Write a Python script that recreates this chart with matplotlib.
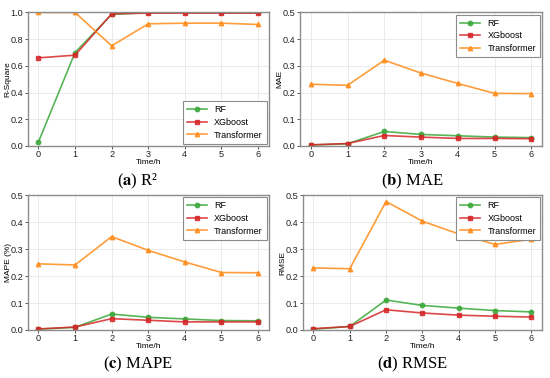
import matplotlib.pyplot as plt

plt.rcParams['font.family'] = ['Liberation Sans', 'DejaVu Sans']
plt.rcParams['mathtext.fontset'] = 'stix'

hours = [0, 1, 2, 3, 4, 5, 6]
models = ['RF', 'XGboost', 'Transformer']

# R-Square
r2_rf = [0.03, 0.70, 0.985, 1.0, 1.0, 1.0, 1.0]
r2_xgb = [0.66, 0.68, 0.99, 0.995, 0.995, 0.995, 0.995]
r2_tf = [1.0, 1.0, 0.75, 0.915, 0.92, 0.92, 0.91]

# MAE
mae_rf = [0.003, 0.008, 0.054, 0.043, 0.038, 0.033, 0.031]
mae_xgb = [0.004, 0.009, 0.039, 0.033, 0.028, 0.028, 0.027]
mae_tf = [0.231, 0.227, 0.321, 0.273, 0.234, 0.197, 0.196]

# MAPE
mape_rf = [0.003, 0.010, 0.059, 0.047, 0.041, 0.035, 0.034]
mape_xgb = [0.004, 0.011, 0.042, 0.036, 0.030, 0.030, 0.030]
mape_tf = [0.245, 0.241, 0.346, 0.295, 0.252, 0.213, 0.212]

# RMSE
rmse_rf = [0.003, 0.013, 0.111, 0.091, 0.081, 0.072, 0.067]
rmse_xgb = [0.005, 0.013, 0.075, 0.063, 0.055, 0.051, 0.048]
rmse_tf = [0.230, 0.227, 0.476, 0.403, 0.356, 0.317, 0.336]

# axes rect, ylabel, data, ymax, legend loc, letter, caption, caption pos
panels = [
    ([0.050, 0.614, 0.439, 0.353], 'R-Square', (r2_rf, r2_xgb, r2_tf), 1.0, 'lower right', 'a', 'R\u00b2', (0.25, 0.519)),
    ([0.545, 0.614, 0.441, 0.353], 'MAE', (mae_rf, mae_xgb, mae_tf), 0.5, 'upper right', 'b', 'MAE', (0.75, 0.519)),
    ([0.050, 0.127, 0.439, 0.357], 'MAPE (%)', (mape_rf, mape_xgb, mape_tf), 0.5, 'upper right', 'c', 'MAPE', (0.25, 0.036)),
    ([0.550, 0.127, 0.436, 0.357], 'RMSE', (rmse_rf, rmse_xgb, rmse_tf), 0.5, 'upper right', 'd', 'RMSE', (0.75, 0.036)),
]

colors = ['#3aa83a', '#d62728', '#ff8c1a']
markers = ['o', 's', '^']

fig = plt.figure(figsize=(5.5, 3.78), dpi=100)

for rect, ylab, series, ymax, loc, letter, name, cpos in panels:
    ax = fig.add_axes(rect)
    for vals, lab, c, m in zip(series, models, colors, markers):
        ax.plot(hours, vals, color=c, marker=m, markersize=3.2, linewidth=1.2,
                alpha=0.85, label=lab)
    ax.set_ylim(0, ymax)
    ax.set_xticks(hours)
    if ymax == 1.0:
        ax.set_yticks([0, 0.2, 0.4, 0.6, 0.8, 1.0])
    else:
        ax.set_yticks([0, 0.1, 0.2, 0.3, 0.4, 0.5])
    ax.grid(True, color='#ebebeb', linewidth=0.7)
    ax.set_axisbelow(True)
    for s in ax.spines.values():
        s.set_color('#8c8c8c')
        s.set_linewidth(1.0)
    ax.tick_params(labelsize=6.6, length=2, width=0.7, color='#555555',
                   labelcolor='#222222', pad=1.2)
    ax.set_xlabel('Time/h', fontsize=6, labelpad=0)
    ax.set_ylabel(ylab, fontsize=6)
    ax.yaxis.set_label_coords(-0.066, 0.5)
    leg = ax.legend(loc=loc, fontsize=6.5, fancybox=False, framealpha=1,
                    borderaxespad=0.25, handlelength=2.2, labelspacing=0.4,
                    borderpad=0.45)
    leg.get_frame().set_edgecolor('#8c8c8c')
    leg.get_frame().set_linewidth(0.8)
    fig.text(cpos[0], cpos[1], '($\\mathbf{' + letter + '}$) ' + name, ha='center', va='center',
             fontsize=12, family='Liberation Serif')

fig.savefig('out.png', dpi=100)
